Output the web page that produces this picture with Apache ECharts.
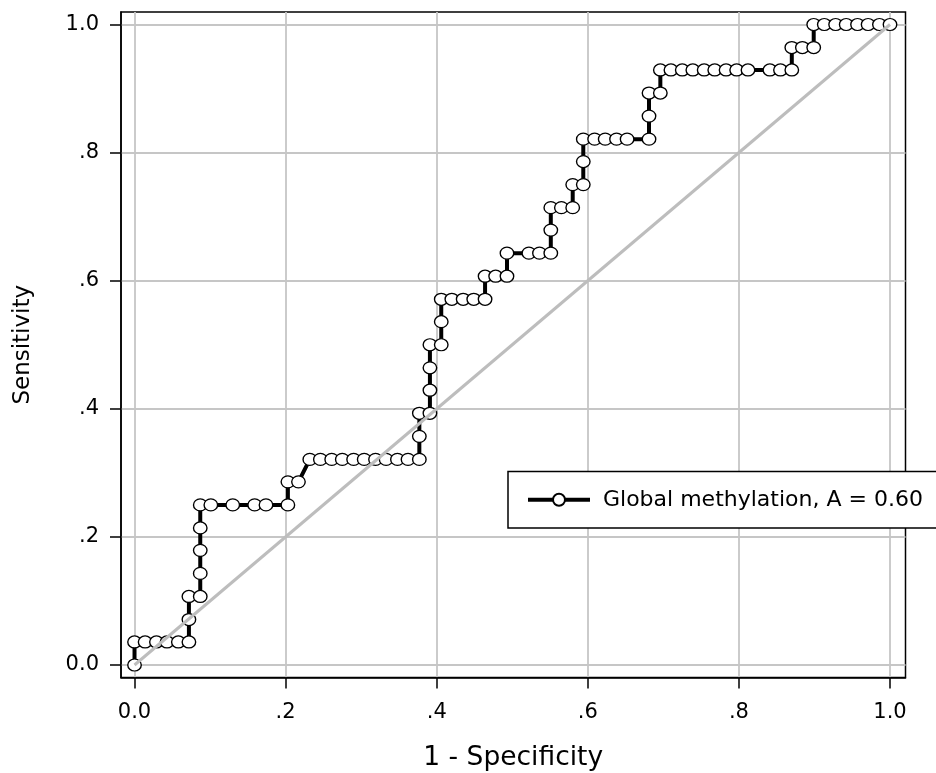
<!DOCTYPE html>
<html>
<head>
<meta charset="utf-8">
<script src="https://cdn.jsdelivr.net/npm/echarts@6/dist/echarts.min.js"></script>
<style>
  html, body { margin: 0; padding: 0; background: #fff; }
  #chart { width: 936px; height: 773px; }
</style>
</head>
<body>
<div id="chart"></div>
<script>
// ROC points (1 - specificity, sensitivity)
var fpr = [
  0, 0, 0.014, 0.029, 0.043, 0.058, 0.072, 0.072, 0.072, 0.087,
  0.087, 0.087, 0.087, 0.087, 0.101, 0.130, 0.159, 0.174, 0.203, 0.203,
  0.217, 0.232, 0.246, 0.261, 0.275, 0.290, 0.304, 0.319, 0.333, 0.348,
  0.362, 0.377, 0.377, 0.377, 0.391, 0.391, 0.391, 0.391, 0.406, 0.406,
  0.406, 0.420, 0.435, 0.449, 0.464, 0.464, 0.478, 0.493, 0.493, 0.522,
  0.536, 0.551, 0.551, 0.551, 0.565, 0.580, 0.580, 0.594, 0.594, 0.594,
  0.609, 0.623, 0.638, 0.652, 0.681, 0.681, 0.681, 0.696, 0.696, 0.710,
  0.725, 0.739, 0.754, 0.768, 0.783, 0.797, 0.812, 0.841, 0.855, 0.870,
  0.870, 0.884, 0.899, 0.899, 0.913, 0.928, 0.942, 0.957, 0.971, 0.986,
  1.000
];
var sens = [
  0, 0.036, 0.036, 0.036, 0.036, 0.036, 0.036, 0.071, 0.107, 0.107,
  0.143, 0.179, 0.214, 0.250, 0.250, 0.250, 0.250, 0.250, 0.250, 0.286,
  0.286, 0.321, 0.321, 0.321, 0.321, 0.321, 0.321, 0.321, 0.321, 0.321,
  0.321, 0.321, 0.357, 0.393, 0.393, 0.429, 0.464, 0.500, 0.500, 0.536,
  0.571, 0.571, 0.571, 0.571, 0.571, 0.607, 0.607, 0.607, 0.643, 0.643,
  0.643, 0.643, 0.679, 0.714, 0.714, 0.714, 0.750, 0.750, 0.786, 0.821,
  0.821, 0.821, 0.821, 0.821, 0.821, 0.857, 0.893, 0.893, 0.929, 0.929,
  0.929, 0.929, 0.929, 0.929, 0.929, 0.929, 0.929, 0.929, 0.929, 0.929,
  0.964, 0.964, 0.964, 1.000, 1.000, 1.000, 1.000, 1.000, 1.000, 1.000,
  1.000
];
var refLineX = [0, 1];
var refLineY = [0, 1];

var tickValues = [0, 0.2, 0.4, 0.6, 0.8, 1];
var tickLabels = ['0.0', '.2', '.4', '.6', '.8', '1.0'];

var seriesName = 'Global methylation, A = 0.60';
var font = 'DejaVu Sans';

function tickLabel(v) {
  var i = tickValues.findIndex(function (t) { return Math.abs(t - v) < 1e-9 })
  return i >= 0 ? tickLabels[i] : ''
}

var chart = echarts.init(document.getElementById('chart'), null, { renderer: 'canvas' });

chart.setOption({
  animation: false,
  backgroundColor: '#fff',
  grid: {
    left: 121,
    right: 30.5,
    top: 12,
    bottom: 95.5,
    show: true,
    borderColor: '#000',
    borderWidth: 1.5,
    outerBoundsMode: 'none'
  },
  legend: {
    left: 508,
    top: 471.5,
    padding: [17.3, 40, 17.3, 18],
    itemWidth: 62,
    itemHeight: 15,
    backgroundColor: '#fff',
    borderColor: '#000',
    borderWidth: 1.5,
    lineStyle: { width: 4, color: '#000' },
    textStyle: {
      fontFamily: font,
      fontSize: 22,
      color: '#000',
      padding: [0, 0, 0, 8]
    },
    data: [seriesName]
  },
  xAxis: {
    type: 'value',
    min: -0.0179,
    max: 1.0205,
    name: '1 - Specificity',
    nameLocation: 'middle',
    nameGap: 67,
    nameTextStyle: { fontFamily: font, fontSize: 26.5, color: '#000' },
    axisLine: { show: true, onZero: false, lineStyle: { color: '#000', width: 1.5 } },
    axisTick: {
      show: true,
      length: 11,
      customValues: tickValues,
      lineStyle: { color: '#000', width: 1.5 }
    },
    axisLabel: {
      customValues: tickValues,
      margin: 25,
      fontFamily: font,
      fontSize: 21,
      color: '#000',
      formatter: tickLabel
    },
    splitLine: { show: true, lineStyle: { color: '#c6c6c6', width: 1.8 } }
  },
  yAxis: {
    type: 'value',
    min: -0.0195,
    max: 1.0195,
    name: 'Sensitivity',
    nameLocation: 'middle',
    nameGap: 86,
    nameTextStyle: { fontFamily: font, fontSize: 23, color: '#000' },
    axisLine: { show: true, onZero: false, lineStyle: { color: '#000', width: 1.5 } },
    axisTick: {
      show: true,
      length: 11,
      customValues: tickValues,
      lineStyle: { color: '#000', width: 1.5 }
    },
    axisLabel: {
      customValues: tickValues,
      margin: 22,
      fontFamily: font,
      fontSize: 21,
      color: '#000',
      formatter: tickLabel
    },
    splitLine: { show: true, lineStyle: { color: '#c6c6c6', width: 1.8 } }
  },
  series: [
    {
      name: seriesName,
      type: 'line',
      data: fpr.map(function (x, i) { return [x, sens[i]] }),
      symbol: 'circle',
      symbolSize: [13.5, 12],
      showSymbol: true,
      showAllSymbol: true,
      z: 2,
      lineStyle: { color: '#000', width: 4 },
      itemStyle: { color: '#fff', borderColor: '#000', borderWidth: 1.3 }
    },
    {
      name: 'reference',
      type: 'line',
      data: refLineX.map(function (x, i) { return [x, refLineY[i]] }),
      symbol: 'none',
      z: 3,
      lineStyle: { color: '#bdbdbd', width: 3 }
    }
  ]
});
</script>
</body>
</html>
